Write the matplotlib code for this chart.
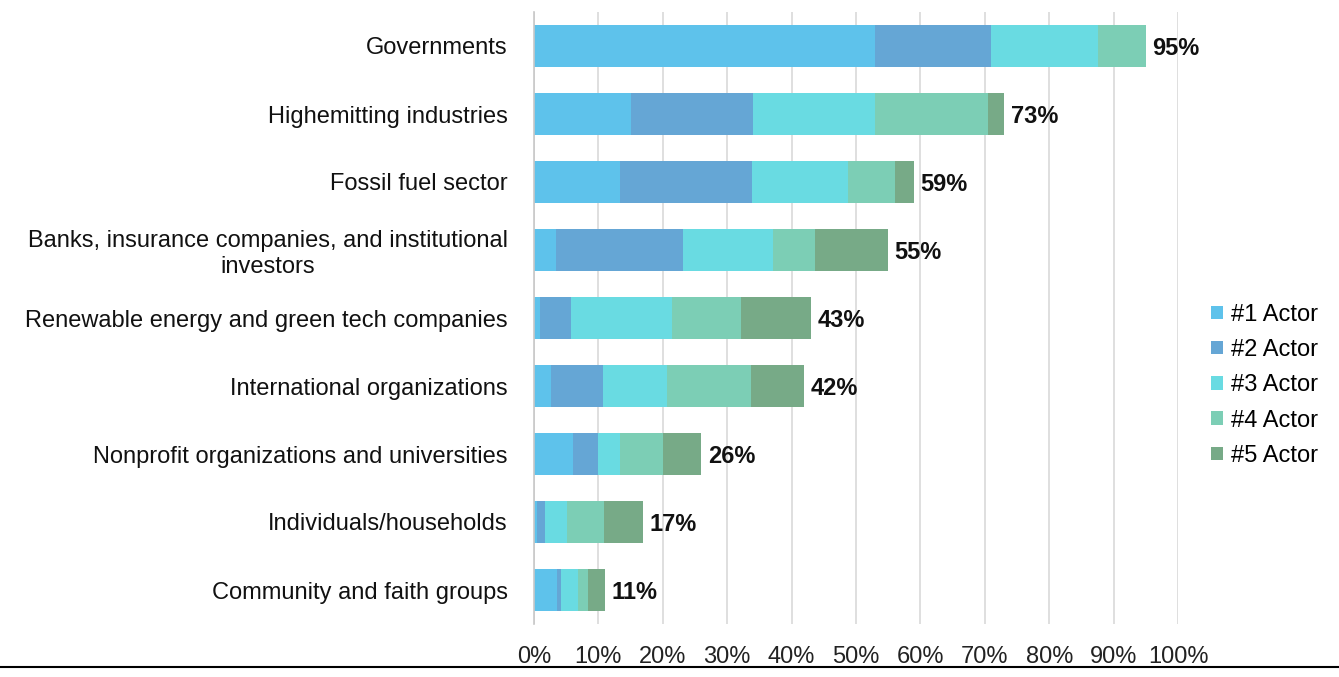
import matplotlib.pyplot as plt
from matplotlib.lines import Line2D
import numpy as np

plt.rcParams['font.family'] = ['Liberation Sans', 'DejaVu Sans']

# categories, top to bottom
categories = [
    'Governments',
    'Highemitting industries',
    'Fossil fuel sector',
    'Banks, insurance companies, and institutional\ninvestors',
    'Renewable energy and green tech companies',
    'International organizations',
    'Nonprofit organizations and universities',
    'Individuals/households',
    'Community and faith groups',
]

# share of respondents ranking each actor #1..#5 (percent)
actor1 = [53.0, 15.0, 13.3, 3.4, 0.9, 2.6, 6.0, 0.5, 3.5]
actor2 = [18.0, 19.0, 20.5, 19.8, 4.9, 8.1, 4.0, 1.2, 0.7]
actor3 = [16.5, 19.0, 15.0, 13.9, 15.6, 9.9, 3.4, 3.4, 2.6]
actor4 = [7.5, 17.5, 7.3, 6.6, 10.8, 13.1, 6.6, 5.7, 1.6]
actor5 = [0.0, 2.5, 2.9, 11.3, 10.8, 8.3, 6.0, 6.2, 2.6]

totals = [95, 73, 59, 55, 43, 42, 26, 17, 11]

series_names = ['#1 Actor', '#2 Actor', '#3 Actor', '#4 Actor', '#5 Actor']
colors = ['#5EC2EB', '#65A6D5', '#69DBE2', '#7CCEB5', '#77AA87']

fs = 17

fig = plt.figure(figsize=(13.39, 6.77), dpi=100)
ax = fig.add_axes([534 / 1339, 1 - 624 / 677, (1178 - 534) / 1339, (624 - 12) / 677])

y = np.arange(len(categories))
left = np.zeros(len(categories))
for name, vals, col in zip(series_names, [actor1, actor2, actor3, actor4, actor5], colors):
    ax.barh(y, vals, left=left, height=0.62, color=col, label=name, zorder=3)
    left += np.array(vals)

for yi, tot, end in zip(y, totals, left):
    ax.text(end + 1.0, yi, f'{tot}%', va='center_baseline', ha='left',
            fontsize=fs, fontweight='bold', color='#111111')

ax.set_xlim(0, 100)
ax.set_ylim(len(categories) - 0.5, -0.5)
ax.set_xticks(np.arange(0, 101, 10))
ax.set_xticklabels([f'{v}%' for v in range(0, 101, 10)], fontsize=fs, color='#222222')
ax.set_yticks(y)
ax.set_yticklabels(categories, fontsize=fs, color='#111111')
for lbl in ax.get_yticklabels():
    lbl.set_multialignment('center')
ax.tick_params(axis='both', length=0)
ax.tick_params(axis='y', pad=19)
ax.tick_params(axis='x', pad=16)

ax.grid(axis='x', color='#d9d9d9', linewidth=1.2, zorder=0)
for s in ['top', 'right', 'bottom']:
    ax.spines[s].set_visible(False)
ax.spines['left'].set_color('#c8c8c8')
ax.spines['left'].set_linewidth(1.2)
ax.spines['left'].set_zorder(4)

ax.legend(loc='center left', bbox_to_anchor=(1.037, 0.39), frameon=False,
          fontsize=fs, handlelength=0.5, handleheight=0.5, handletextpad=0.35,
          labelspacing=0.56, borderaxespad=0.0)

# bottom rule across the full width
fig.add_artist(Line2D([0, 1], [1 - 667 / 677, 1 - 667 / 677], color='black',
                      linewidth=1.5, transform=fig.transFigure))

fig.savefig('out.png', dpi=100)
